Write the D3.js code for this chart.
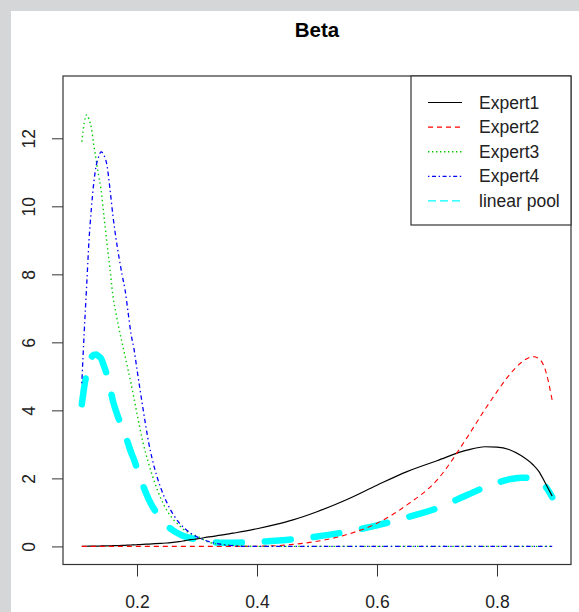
<!DOCTYPE html>
<html>
<head>
<meta charset="utf-8">
<script src="https://cdn.jsdelivr.net/npm/d3@7"></script>
<style>
body { margin: 0; background: #d5d6d8; }
svg { display: block; }
.axis text { font-family: "Liberation Sans", Arial, sans-serif; font-size: 17.5px; fill: #222; }
.axis line { stroke: #333; }
.legend text { font-family: "Liberation Sans", Arial, sans-serif; font-size: 17.5px; fill: #222; }
</style>
</head>
<body>
<svg width="579" height="612"></svg>
<script>
// values
var xGrid = [0.108,0.112,0.116,0.12,0.124,0.128,0.132,0.136,0.14,
  0.145,0.15,0.155,0.16,0.165,0.17,0.175,0.18,0.185,0.19,0.195,0.2,
  0.21,0.22,0.23,0.24,0.25,0.26,0.27,0.28,0.29,0.3,
  0.32,0.34,0.36,0.38,0.4,
  0.43,0.46,0.5,0.55,0.6,0.65,0.7,0.75,
  0.78,0.8,0.82,0.84,0.86,0.87,0.88,0.892];

var expert1 = [0.003,0.004,0.005,0.006,0.007,0.008,0.010,0.011,0.013,
  0.015,0.017,0.019,0.021,0.024,0.027,0.030,0.033,0.037,0.041,0.045,0.050,
  0.060,0.070,0.080,0.090,0.100,0.120,0.140,0.170,0.200,0.220,
  0.280,0.330,0.390,0.450,0.520,
  0.640,0.780,1.020,1.380,1.800,2.200,2.520,2.830,
  2.930,2.920,2.850,2.670,2.400,2.200,1.880,1.480];

var expert2 = [0,0,0,0,0,0,0,0,0,
  0,0,0,0,0,0,0,0,0,0,0,0,
  0,0,0,0,0,0,0,0,0,0,
  0,0,0,0,0.005,
  0.02,0.06,0.15,0.35,0.68,1.22,1.95,3.2,
  4.03,4.55,5.03,5.4,5.58,5.52,5.22,4.3];

var expert3 = [11.9,12.45,12.69,12.55,12.3,11.8,11.35,10.9,10.5,
  9.7,8.9,8.15,7.35,6.85,6.4,6.0,5.6,5.2,4.8,4.35,3.9,
  3.05,2.4,1.85,1.4,1.05,0.8,0.62,0.47,0.37,0.3,
  0.12,0.06,0.03,0.01,0,
  0,0,0,0,0,0,0,0,
  0,0,0,0,0,0,0,0];

var expert4 = [4.8,6.3,7.64,9.0,9.95,10.7,11.2,11.45,11.6,
  11.5,11.2,10.5,9.7,9.05,8.5,8.0,7.55,6.9,6.25,5.8,5.2,
  4.05,3.0,2.25,1.7,1.28,0.95,0.7,0.52,0.38,0.28,
  0.14,0.06,0.02,0,0,
  0,0,0,0,0,0,0,0,
  0,0,0,0,0,0,0,0];

var linearPool = [4.18,4.69,5.08,5.39,5.56,5.63,5.64,5.59,5.53,
  5.3,5.03,4.67,4.27,3.98,3.73,3.51,3.3,3.03,2.77,2.55,2.29,
  1.79,1.37,1.05,0.8,0.61,0.47,0.37,0.29,0.24,0.2,
  0.135,0.11,0.11,0.115,0.13,
  0.165,0.21,0.29,0.43,0.62,0.855,1.12,1.51,
  1.74,1.87,1.97,2.02,2.0,1.93,1.78,1.45];

var seriesNames = ["Expert1","Expert2","Expert3","Expert4","linear pool"];
var seriesValues = [expert1, expert2, expert3, expert4, linearPool];
var xTicks = [0.2,0.4,0.6,0.8];
var yTicks = [0,2,4,6,8,10,12];

// styles
var colors = ["#000000","#ff0000","#00cd00","#0000ff","#00ffff"];
var plotWidths = [1.2,1.1,1.4,1.3,6.5];
var plotDash = [null,"5 4","1.4 3","1.4 3 4.5 3","26 23"];
var legendWidths = [1.2,1.1,1.4,1.3,1.2];
var legendDash = [null,"5 4","1.4 2.6","1.4 2.6 4 2.6","8 4"];

var svg = d3.select("svg");
var margin = {"top":76,"right":8,"bottom":47.5,"left":63};
var width = +svg.attr("width") - margin.left - margin.right;
var height = +svg.attr("height") - margin.top - margin.bottom;

svg.append("rect").attr("x",11).attr("y",11).attr("width",568).attr("height",601).attr("fill","#fff");

var g = svg.append("g").attr("transform","translate("+margin.left+","+margin.top+")");

// R style 4% padding around the data range
var xr = d3.extent(xGrid), xp = (xr[1]-xr[0])*0.04;
var x = d3.scaleLinear().domain([xr[0]-xp, xr[1]+xp]).range([0,width]);
var y = d3.scaleLinear().domain([-0.532,13.832]).range([height,0]);

var line = d3.line()
  .x(function(d){return x(d[0]);})
  .y(function(d){return y(d[1]);})
  .curve(d3.curveMonotoneX);

// pool first, experts on top
var order = [4,0,1,2,3];
order.forEach(function(i){
  var pts = xGrid.map(function(v,j){return [v, seriesValues[i][j]];});
  g.append("path")
    .datum(pts)
    .attr("fill","none")
    .attr("stroke",colors[i])
    .attr("stroke-width",plotWidths[i])
    .attr("stroke-dasharray",plotDash[i])
    .attr("stroke-linecap", i==4 ? "round" : "butt")
    .attr("d",line);
});

var xAxis = g.append("g")
  .attr("class","axis")
  .attr("transform","translate(0,"+height+")")
  .call(d3.axisBottom(x).tickValues(xTicks).tickSize(12).tickFormat(d3.format(".1f")));
xAxis.select(".domain").remove();
xAxis.selectAll("text").attr("y",43.5).attr("dy",0);

var yAxis = g.append("g")
  .attr("class","axis")
  .call(d3.axisLeft(y).tickValues(yTicks).tickSize(11));
yAxis.select(".domain").remove();
yAxis.selectAll("text")
  .attr("x",0).attr("dy",0)
  .attr("text-anchor","middle")
  .attr("transform","translate(-28,0) rotate(-90)");

g.append("rect")
  .attr("width",width).attr("height",height)
  .attr("fill","none").attr("stroke","#333").attr("stroke-width",1.2);

// legend in the top right corner
var lg = g.append("g").attr("class","legend").attr("transform","translate("+(width-160)+",0)");
lg.append("rect").attr("width",160).attr("height",149)
  .attr("fill","#fff").attr("stroke","#333").attr("stroke-width",1.2);
seriesNames.forEach(function(name,i){
  var ry = 26.5 + i*24.6;
  lg.append("line")
    .attr("x1",17).attr("x2",51).attr("y1",ry).attr("y2",ry)
    .attr("stroke",colors[i])
    .attr("stroke-width",legendWidths[i])
    .attr("stroke-dasharray",legendDash[i]);
  lg.append("text").attr("x",68).attr("y",ry+6).text(name);
});

svg.append("text")
  .attr("x",margin.left+width/2).attr("y",37)
  .attr("text-anchor","middle")
  .style("font-family","'Liberation Sans', Arial, sans-serif")
  .style("font-size","20.5px").style("font-weight","bold")
  .text("Beta");
</script>
</body>
</html>
